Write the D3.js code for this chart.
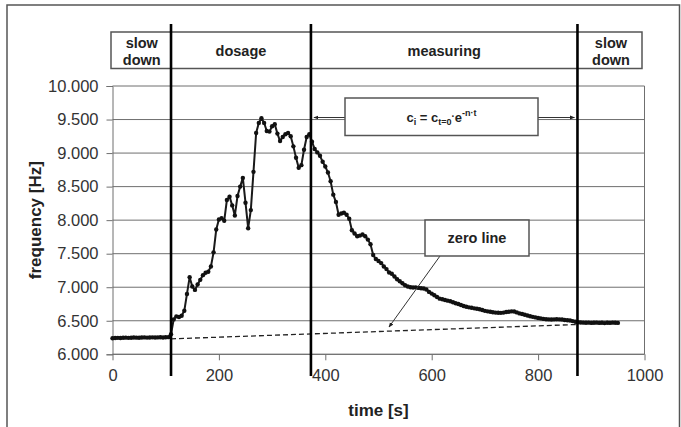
<!DOCTYPE html>
<html>
<head>
<meta charset="utf-8">
<script src="https://cdn.jsdelivr.net/npm/d3@7"></script>
<style>
  html, body { margin: 0; padding: 0; background: #fff; }
  svg { display: block; }
  text { font-family: "Liberation Sans", Arial, sans-serif; }
</style>
</head>
<body>
<svg id="chart" width="681" height="427"></svg>
<script>
// ---------------- data ----------------
const timeS = [
  0,5,10,15,20,25,30,35,40,45,50,55,60,65,70,75,80,85,90,95,100,105,
  110,115,120,125,130,135,140,145,150,155,160,165,170,175,180,185,190,195,
  200,205,210,215,220,225,230,235,240,245,250,255,260,265,270,275,280,285,290,295,
  300,305,310,315,320,325,330,335,340,345,350,355,360,365,370,375,380,385,390,395,
  400,405,410,415,420,425,430,435,440,445,450,455,460,465,470,475,480,485,490,495,
  500,505,510,515,520,525,530,535,540,545,550,555,560,565,570,575,580,585,590,595,
  600,605,610,615,620,625,630,635,640,645,650,655,660,665,670,675,680,685,690,695,
  700,705,710,715,720,725,730,735,740,745,750,755,760,765,770,775,780,785,790,795,
  800,805,810,815,820,825,830,835,840,845,850,855,860,865,870,875,880,885,890,895,
  900,905,910,915,920,925,930,935,940,945,950
];
const freqHz = [
  6240,6242,6245,6243,6246,6248,6245,6247,6250,6248,6246,6250,6252,6249,6251,6253,6250,6252,6255,6251,6254,6256,
  6300,6520,6565,6555,6575,6650,6900,7150,7010,6960,7040,7110,7180,7215,7230,7310,7520,7860,
  8010,8030,7990,8300,8350,8220,8070,8360,8500,8630,8260,7880,8150,8720,9300,9450,9520,9450,9330,9320,
  9400,9430,9290,9180,9240,9280,9300,9250,9100,8930,8780,8820,9050,9240,9280,9170,9060,9010,8960,8870,
  8800,8710,8580,8380,8270,8080,8100,8110,8080,8020,7850,7800,7760,7770,7785,7760,7710,7640,7480,7420,
  7390,7360,7310,7270,7220,7200,7160,7120,7090,7060,7030,7010,7000,6995,6998,6990,6985,6980,6965,6930,
  6905,6880,6855,6830,6820,6810,6800,6790,6775,6760,6750,6735,6720,6710,6700,6695,6685,6680,6672,6660,
  6648,6640,6635,6628,6622,6620,6618,6622,6630,6635,6640,6638,6625,6610,6600,6590,6578,6568,6558,6550,
  6542,6535,6528,6522,6520,6518,6520,6522,6520,6518,6512,6508,6505,6495,6485,6478,6475,6472,6470,6472,
  6468,6470,6472,6468,6470,6465,6470,6468,6472,6470,6468
];
const xTicks = [0, 200, 400, 600, 800, 1000];
const yTicks = [6000, 6500, 7000, 7500, 8000, 8500, 9000, 9500, 10000];
const phaseBoundaries = [110, 373, 874];
const phaseLabels = [["slow", "down"], ["dosage"], ["measuring"], ["slow", "down"]];
const zeroLineT = [110, 875];
const zeroLineF = [6230, 6445];
const xTitle = "time [s]";
const yTitle = "frequency [Hz]";

// ---------------- layout ----------------
const svg = d3.select("#chart");
const x = d3.scaleLinear().domain([0, 1000]).range([112.5, 644.5]);
const y = d3.scaleLinear().domain([6000, 10000]).range([354.3, 86]);
const gridCol = "#6f6f6f";

// outer frame
svg.append("rect").attr("x", 7).attr("y", 5).attr("width", 672.5).attr("height", 440)
  .attr("fill", "none").attr("stroke", "#555").attr("stroke-width", 1.5);

// gridlines
svg.append("g").selectAll("line").data(yTicks).join("line")
  .attr("x1", x(0)).attr("x2", x(1000))
  .attr("y1", d => y(d)).attr("y2", d => y(d))
  .attr("stroke", gridCol).attr("stroke-width", 1);
svg.append("line").attr("x1", x(1000)).attr("x2", x(1000)).attr("y1", y(10000)).attr("y2", y(6000))
  .attr("stroke", gridCol).attr("stroke-width", 1);

const fmt = d => d3.format(",.0f")(d).replace(/,/g, ".");

// axes
const yAxis = svg.append("g").attr("transform", `translate(${x(0)},0)`)
  .call(d3.axisLeft(y).tickValues(yTicks).tickFormat(fmt).tickSize(6).tickPadding(8));
const xAxis = svg.append("g").attr("transform", `translate(0,${y(6000)})`)
  .call(d3.axisBottom(x).tickValues(xTicks).tickFormat(d3.format("d")).tickSize(6).tickPadding(9));
[yAxis, xAxis].forEach(g => {
  g.select(".domain").attr("stroke", gridCol).attr("stroke-width", 1);
  g.selectAll(".tick line").attr("stroke", gridCol);
  g.selectAll(".tick text").attr("font-size", 16.5).attr("fill", "#333")
    .attr("font-family", "'Liberation Sans', Arial, sans-serif");
});
xAxis.select(".domain").remove();
svg.append("line").attr("x1", x(0)).attr("x2", x(1000)).attr("y1", y(6000)).attr("y2", y(6000))
  .attr("stroke", gridCol);

// axis titles
svg.append("text").text(xTitle).attr("x", (x(0) + x(1000)) / 2).attr("y", 416)
  .attr("text-anchor", "middle").attr("font-size", 17).attr("font-weight", "bold").attr("fill", "#222");
svg.append("text").text(yTitle)
  .attr("transform", `translate(41,${(y(6000) + y(10000)) / 2}) rotate(-90)`)
  .attr("text-anchor", "middle").attr("font-size", 17).attr("font-weight", "bold").attr("fill", "#222");

// zero line (dashed)
svg.append("line")
  .attr("x1", x(zeroLineT[0])).attr("y1", y(zeroLineF[0]))
  .attr("x2", x(zeroLineT[1])).attr("y2", y(zeroLineF[1]))
  .attr("stroke", "#222").attr("stroke-width", 1.3).attr("stroke-dasharray", "5,3");

// data points
const pts = timeS.map((t, i) => ({ t, f: freqHz[i] }));
svg.append("path").datum(pts)
  .attr("d", d3.line().x(d => x(d.t)).y(d => y(d.f)))
  .attr("fill", "none").attr("stroke", "#1a1a1a").attr("stroke-width", 2);
svg.append("g").selectAll("circle").data(pts).join("circle")
  .attr("cx", d => x(d.t)).attr("cy", d => y(d.f)).attr("r", 2.2).attr("fill", "#111");

// header box
const hTop = 32, hBot = 68.5;
svg.append("rect").attr("x", x(0) - 1.5).attr("y", hTop).attr("width", x(1000) - x(0) - 1)
  .attr("height", hBot - hTop).attr("fill", "#fff").attr("stroke", "#555").attr("stroke-width", 1.5);
const edges = [0, ...phaseBoundaries, 1000];
phaseLabels.forEach((lines, i) => {
  const cx = (x(edges[i]) + x(edges[i + 1])) / 2;
  const t = svg.append("text").attr("text-anchor", "middle").attr("font-size", 14.5)
    .attr("font-weight", "bold").attr("fill", "#222");
  if (lines.length === 2) {
    t.append("tspan").attr("x", cx).attr("y", 47.5).text(lines[0]);
    t.append("tspan").attr("x", cx).attr("y", 65).text(lines[1]);
  } else {
    t.append("tspan").attr("x", cx).attr("y", 55.5).text(lines[0]);
  }
});

// phase boundary lines
svg.append("g").selectAll("line").data(phaseBoundaries).join("line")
  .attr("x1", d => x(d)).attr("x2", d => x(d)).attr("y1", 24).attr("y2", 376)
  .attr("stroke", "#000").attr("stroke-width", 2.6);

// arrow marker
const defs = svg.append("defs");
defs.append("marker").attr("id", "arr").attr("viewBox", "0 0 10 10").attr("refX", 9).attr("refY", 5)
  .attr("markerWidth", 5).attr("markerHeight", 5).attr("orient", "auto-start-reverse")
  .append("path").attr("d", "M0,1 L10,5 L0,9 z").attr("fill", "#222");

// formula box with arrows
const fbX1 = 345, fbX2 = 538, fbY1 = 98, fbY2 = 135.5, fbMid = 117.5;
svg.append("line").attr("x1", fbX1).attr("x2", x(phaseBoundaries[1]) + 3).attr("y1", fbMid).attr("y2", fbMid)
  .attr("stroke", "#333").attr("stroke-width", 1).attr("marker-end", "url(#arr)");
svg.append("line").attr("x1", fbX2).attr("x2", x(phaseBoundaries[2]) - 3).attr("y1", fbMid).attr("y2", fbMid)
  .attr("stroke", "#333").attr("stroke-width", 1).attr("marker-end", "url(#arr)");
svg.append("rect").attr("x", fbX1).attr("y", fbY1).attr("width", fbX2 - fbX1).attr("height", fbY2 - fbY1)
  .attr("fill", "#fff").attr("stroke", "#555").attr("stroke-width", 1.5);
const ft = svg.append("text").attr("x", (fbX1 + fbX2) / 2).attr("y", 122).attr("text-anchor", "middle")
  .attr("font-size", 13).attr("font-weight", "bold").attr("fill", "#222");
ft.append("tspan").text("c");
ft.append("tspan").text("i").attr("font-size", 9).attr("dy", 3);
ft.append("tspan").text(" = c").attr("dy", -3);
ft.append("tspan").text("t=0").attr("font-size", 9).attr("dy", 3);
ft.append("tspan").text("·").attr("font-size", 10).attr("dy", -5);
ft.append("tspan").text("e").attr("dy", 2);
ft.append("tspan").text("-n·t").attr("font-size", 9).attr("dy", -6);

// zero line annotation
svg.append("line").attr("x1", 440).attr("y1", 256).attr("x2", 389).attr("y2", 327)
  .attr("stroke", "#333").attr("stroke-width", 1).attr("marker-end", "url(#arr)");
svg.append("rect").attr("x", 425).attr("y", 220).attr("width", 104).attr("height", 36)
  .attr("fill", "#fff").attr("stroke", "#555").attr("stroke-width", 1.5);
svg.append("text").text("zero line").attr("x", 477).attr("y", 243).attr("text-anchor", "middle")
  .attr("font-size", 14.5).attr("font-weight", "bold").attr("fill", "#222");
</script>
</body>
</html>
